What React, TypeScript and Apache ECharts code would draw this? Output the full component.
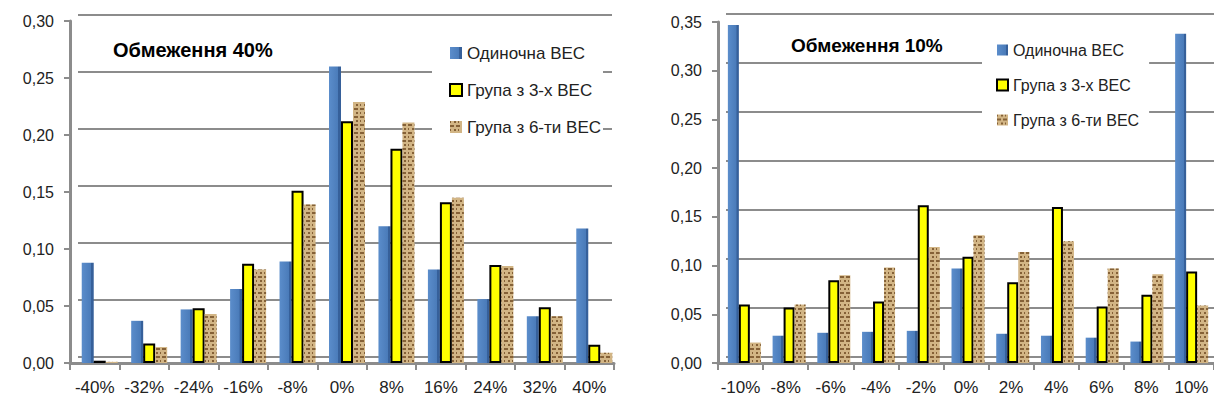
import React, { useEffect, useRef } from "react";
import * as echarts from "echarts";

const categories40 = ["-40%", "-32%", "-24%", "-16%", "-8%", "0%", "8%", "16%", "24%", "32%", "40%"];
const single40 = [0.088, 0.037, 0.047, 0.065, 0.089, 0.26, 0.12, 0.082, 0.056, 0.041, 0.118];
const group3_40 = [0.002, 0.017, 0.048, 0.087, 0.151, 0.212, 0.188, 0.141, 0.086, 0.049, 0.016];
const group6_40 = [0.001, 0.014, 0.043, 0.082, 0.139, 0.229, 0.211, 0.145, 0.085, 0.041, 0.009];

const categories10 = ["-10%", "-8%", "-6%", "-4%", "-2%", "0%", "2%", "4%", "6%", "8%", "10%"];
const single10 = [0.347, 0.028, 0.031, 0.032, 0.033, 0.097, 0.03, 0.028, 0.026, 0.022, 0.338];
const group3_10 = [0.06, 0.057, 0.085, 0.063, 0.162, 0.109, 0.083, 0.16, 0.058, 0.07, 0.094];
const group6_10 = [0.021, 0.06, 0.09, 0.098, 0.119, 0.131, 0.114, 0.125, 0.097, 0.091, 0.059];

const seriesNames = ["Одиночна ВЕС", "Група з 3-х ВЕС", "Група з 6-ти ВЕС"];
const titles = ["Обмеження 40%", "Обмеження 10%"];

const FONT = "Liberation Sans";
const GRID_COLOR = "#8c8c8c";

const blueStyle = {
  color: {
    type: "linear", x: 0, y: 0, x2: 1, y2: 0,
    colorStops: [
      { offset: 0, color: "#5b8dcb" },
      { offset: 0.78, color: "#4a7bb9" },
      { offset: 0.79, color: "#36609a" },
      { offset: 1, color: "#36609a" },
    ],
  },
};
const yellowStyle = { color: "#ffff00", borderColor: "#000", borderWidth: 2 };
const brownStyle = {
  color: "#d2b585",
  decal: {
    symbol: "rect",
    symbolSize: 1,
    color: "rgba(100,62,22,0.7)",
    dashArrayX: [[4, 2], [1, 3, 2, 2]],
    dashArrayY: [2, 2],
    rotation: 0,
  },
};

export default function App() {
  const ref = useRef<HTMLDivElement>(null);
  useEffect(() => {
    const chart = echarts.init(ref.current!, undefined, { renderer: "svg" });
    const fmt = (v: number) => v.toFixed(2).replace(".", ",");
    const mainY = (max: number, gi: number) => ({
      type: "value", gridIndex: gi, min: 0, max, interval: 0.05,
      axisLine: { show: true, lineStyle: { color: GRID_COLOR, width: 3 } },
      axisTick: { show: true, length: 6, lineStyle: { color: GRID_COLOR, width: 2 } },
      splitLine: { show: false },
      axisLabel: { formatter: fmt, fontSize: 16, color: "#222", margin: 16, fontFamily: FONT },
    });
    const backY = (max: number, gi: number) => ({
      type: "value", gridIndex: gi, min: 0, max, interval: 0.05,
      axisLine: { show: false }, axisTick: { show: false }, axisLabel: { show: false },
      splitLine: { show: true, lineStyle: { color: GRID_COLOR, width: 2 } },
    });
    const hiddenY = (max: number, gi: number) => ({ type: "value", gridIndex: gi, min: 0, max, show: false, splitLine: { show: false } });
    const mainX = (cats: string[], gi: number) => ({
      type: "category", gridIndex: gi, data: cats,
      axisLine: { show: true, lineStyle: { color: GRID_COLOR, width: 3 } },
      axisTick: { show: true, length: 7, lineStyle: { color: GRID_COLOR, width: 2 } },
      axisLabel: { fontSize: 17, color: "#222", margin: 16, fontFamily: FONT, interval: 0 },
    });
    const hiddenX = (cats: string[], gi: number) => ({ type: "category", gridIndex: gi, data: cats, show: false });
    const backX = (gi: number) => ({ type: "value", gridIndex: gi, min: 0, max: 1, show: false });
    const bar = (name: string, data: number[], axis: number, itemStyle: any, bw: number) => ({
      type: "bar", name, data, xAxisIndex: axis, yAxisIndex: axis,
      barWidth: bw, barGap: "0%", itemStyle,
    });
    const legend = (left: number, top: number, fs: number, gap: number, pad: number[], icon: number) => ({
      orient: "vertical", left, top, padding: pad, itemGap: gap,
      itemWidth: icon, itemHeight: icon, backgroundColor: "#fff",
      icon: "rect", data: seriesNames,
      textStyle: { fontSize: fs, color: "#222", fontFamily: FONT, lineHeight: 18 },
    });
    chart.setOption({
      animation: false,
      textStyle: { fontFamily: FONT },
      title: [
        { text: titles[0], left: 108, top: 35, textStyle: { fontSize: 20, fontWeight: "bold", color: "#000", fontFamily: FONT } },
        { text: titles[1], left: 786, top: 31, textStyle: { fontSize: 19, fontWeight: "bold", color: "#000", fontFamily: FONT } },
      ],
      legend: [
        legend(432, 32, 17, 19, [12, 2, 26, 17], 12),
        legend(982, 28, 16, 17, [13, 10, 24, 14], 11),
      ],
      grid: [
        { left: 70, top: 21, width: 544, height: 342 },
        { left: 78, top: 15, width: 534, height: 342 },
        { left: 718, top: 22, width: 496, height: 341 },
        { left: 726, top: 14, width: 488, height: 343 },
        { left: 75, top: 21, width: 544, height: 342 },
        { left: 722, top: 22, width: 496, height: 341 },
      ],
      xAxis: [mainX(categories40, 0), backX(1), mainX(categories10, 2), backX(3), hiddenX(categories40, 4), hiddenX(categories10, 5)],
      yAxis: [mainY(0.3, 0), backY(0.3, 1), mainY(0.35, 2), backY(0.35, 3), hiddenY(0.3, 4), hiddenY(0.35, 5)],
      series: [
        bar(seriesNames[0], single40, 4, blueStyle, 12),
        bar(seriesNames[1], group3_40, 4, yellowStyle, 12),
        bar(seriesNames[2], group6_40, 4, brownStyle, 12),
        bar(seriesNames[0], single10, 5, blueStyle, 11),
        bar(seriesNames[1], group3_10, 5, yellowStyle, 11),
        bar(seriesNames[2], group6_10, 5, brownStyle, 11),
      ],
    });
    return () => chart.dispose();
  }, []);
  return <div ref={ref} style={{ position: "fixed", left: 0, top: 0, width: 1214, height: 405, background: "#fff" }} />;
}
